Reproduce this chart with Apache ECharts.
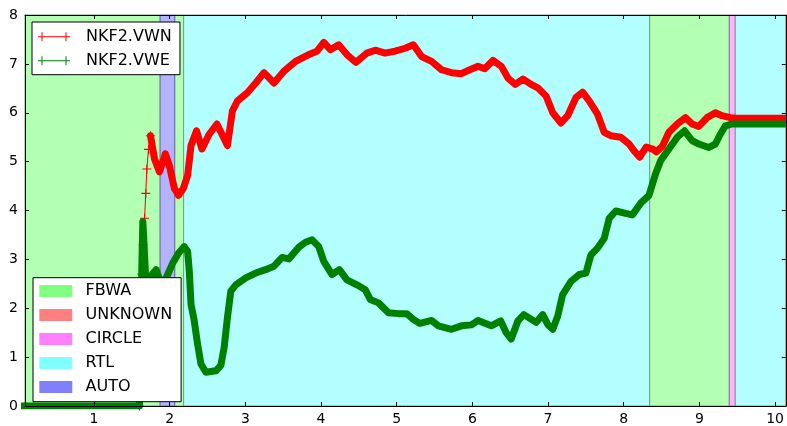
<!DOCTYPE html>
<html><head><meta charset="utf-8">
<script src="https://cdn.jsdelivr.net/npm/echarts@6/dist/echarts.min.js"></script>
<style>html,body{margin:0;padding:0;background:#fff}#c{width:787px;height:426px}</style>
</head><body><div id="c"></div>
<script>
// ---- tick labels ----
const xTicks = [1, 2, 3, 4, 5, 6, 7, 8, 9, 10];
const yTicks = [0, 1, 2, 3, 4, 5, 6, 7, 8];

// ---- series names ----
const lineNames = ['NKF2.VWN', 'NKF2.VWE'];
const modeNames = ['FBWA', 'UNKNOWN', 'CIRCLE', 'RTL', 'AUTO'];

// ---- flight-mode spans [start, end] on the x axis ----
const fbwaSpans = [[0.0, 1.874], [2.066, 2.184], [8.342, 9.395]];
const unknownSpans = [];
const circleSpans = [[9.395, 9.474]];
const rtlSpans = [[2.184, 8.342], [9.474, 10.3]];
const autoSpans = [[1.874, 2.066]];

// ---- NKF2.VWN (red): initial steep rise, then the main trace ----
const vwnRise = [[0.0, 0], [1.601, 0], [1.617, 1.4], [1.630, 2.7], [1.650, 3.3], [1.668, 3.84],
  [1.684, 4.35], [1.698, 4.85], [1.720, 5.25], [1.746, 5.53]];
const vwnMain = [[1.746, 5.53], [1.799, 5.06], [1.864, 4.79], [1.943, 5.16], [1.996, 4.92], [2.062, 4.45],
  [2.118, 4.31], [2.180, 4.45], [2.237, 4.72], [2.282, 5.33], [2.355, 5.63], [2.426, 5.26], [2.522, 5.56],
  [2.624, 5.77], [2.763, 5.33], [2.829, 6.04], [2.895, 6.24], [3.026, 6.41], [3.137, 6.61], [3.246, 6.82],
  [3.378, 6.61], [3.509, 6.85], [3.663, 7.05], [3.838, 7.19], [3.947, 7.26], [4.036, 7.44], [4.124, 7.29],
  [4.233, 7.39], [4.342, 7.19], [4.461, 7.03], [4.605, 7.22], [4.716, 7.28], [4.847, 7.22], [4.979, 7.26],
  [5.111, 7.32], [5.220, 7.39], [5.329, 7.15], [5.461, 7.05], [5.592, 6.88], [5.724, 6.82], [5.855, 6.80],
  [5.966, 6.88], [6.075, 6.95], [6.163, 6.90], [6.272, 7.07], [6.382, 6.95], [6.470, 6.71], [6.566, 6.58],
  [6.667, 6.69], [6.776, 6.58], [6.864, 6.51], [6.974, 6.34], [7.062, 6.00], [7.171, 5.79], [7.259, 5.94],
  [7.368, 6.31], [7.457, 6.42], [7.545, 6.24], [7.654, 5.97], [7.742, 5.60], [7.829, 5.53], [7.961, 5.50],
  [8.071, 5.36], [8.137, 5.22], [8.211, 5.09], [8.298, 5.30], [8.390, 5.25], [8.430, 5.20], [8.509, 5.31],
  [8.597, 5.60], [8.707, 5.77], [8.816, 5.90], [8.904, 5.77], [8.992, 5.72], [9.101, 5.90], [9.211, 6.00],
  [9.299, 5.94], [9.408, 5.90], [9.496, 5.89], [10.2, 5.89]];

// ---- NKF2.VWE (green) ----
const vweMain = [[0.0, 0], [1.601, 0], [1.617, 1.5], [1.634, 3.0], [1.645, 3.77], [1.661, 3.3], [1.680, 2.69],
  [1.733, 2.55], [1.772, 2.70], [1.821, 2.79], [1.864, 2.60], [1.917, 2.50], [1.974, 2.69], [2.039, 2.92],
  [2.118, 3.13], [2.193, 3.26], [2.237, 3.16], [2.259, 2.76], [2.282, 2.08], [2.325, 1.74], [2.368, 1.27],
  [2.413, 0.86], [2.479, 0.69], [2.611, 0.72], [2.676, 0.83], [2.720, 1.20], [2.763, 1.81], [2.808, 2.35],
  [2.874, 2.48], [3.005, 2.62], [3.137, 2.72], [3.268, 2.79], [3.378, 2.86], [3.487, 3.04], [3.575, 3.01],
  [3.707, 3.25], [3.795, 3.35], [3.882, 3.40], [3.970, 3.26], [4.036, 2.96], [4.145, 2.69], [4.242, 2.79],
  [4.342, 2.58], [4.474, 2.48], [4.584, 2.38], [4.650, 2.18], [4.759, 2.11], [4.891, 1.91], [5.022, 1.89],
  [5.132, 1.89], [5.220, 1.77], [5.308, 1.69], [5.461, 1.75], [5.549, 1.64], [5.724, 1.57], [5.855, 1.64],
  [5.987, 1.66], [6.075, 1.75], [6.250, 1.64], [6.374, 1.74], [6.447, 1.50], [6.513, 1.37], [6.601, 1.74],
  [6.680, 1.87], [6.842, 1.71], [6.930, 1.87], [6.996, 1.67], [7.062, 1.57], [7.128, 1.84], [7.193, 2.28],
  [7.303, 2.55], [7.413, 2.69], [7.500, 2.72], [7.566, 3.09], [7.654, 3.23], [7.742, 3.43], [7.808, 3.84],
  [7.895, 3.99], [8.026, 3.94], [8.114, 3.91], [8.224, 4.15], [8.334, 4.31], [8.421, 4.75], [8.487, 5.02],
  [8.597, 5.26], [8.707, 5.50], [8.803, 5.63], [8.904, 5.43], [8.992, 5.36], [9.124, 5.29], [9.211, 5.36],
  [9.276, 5.56], [9.342, 5.73], [9.430, 5.77], [10.2, 5.77]];

// ---- styling ----
const FONT = 'DejaVu Sans';
const RED = '#ff0000', GREEN = '#008000';
const modeSpanMap = { FBWA: fbwaSpans, UNKNOWN: unknownSpans, CIRCLE: circleSpans, RTL: rtlSpans, AUTO: autoSpans };
const modeLegendColor = { FBWA: '#80ff80', UNKNOWN: '#ff8080', CIRCLE: '#ff80ff', RTL: '#80ffff', AUTO: '#8080ff' };
const modeBandColor = { FBWA: '#b3ffb3', UNKNOWN: '#ffb3b3', CIRCLE: '#ffb3ff', RTL: '#b3ffff', AUTO: '#b3b3ff' };
const modeBorderColor = { FBWA: '#7a9a7a', UNKNOWN: '#a06f6f', CIRCLE: '#a06fa0', RTL: '#7a9a9a', AUTO: '#6f6fa0' };
const plusSymbol = 'path://M0,4.4H10V5.6H0Z M4.4,0H5.6V10H4.4Z';
const legendLineIcon = 'path://M0,4H32V5H0Z M3.5,0H4.5V9H3.5Z M27.5,0H28.5V9H27.5Z';

const X_MIN = 0.088, X_MAX = 10.141;

const modeSeries = modeNames.map(m => ({
  name: m, type: 'line', data: [], z: 1,
  itemStyle: { color: modeLegendColor[m], borderColor: modeLegendColor[m] },
  lineStyle: { color: modeLegendColor[m] },
  markArea: {
    silent: true,
    itemStyle: { color: modeBandColor[m], borderColor: modeBorderColor[m], borderWidth: 1 },
    data: modeSpanMap[m].map(s => [{ xAxis: s[0] }, { xAxis: s[1] }])
  }
}));

const xAxisBase = {
  type: 'value', min: X_MIN, max: X_MAX, z: 10,
  axisLine: { show: true, onZero: false, lineStyle: { color: '#000', width: 1 } },
  axisTick: { show: true, inside: true, length: 4, customValues: xTicks, lineStyle: { color: '#000' } },
  splitLine: { show: false }
};
const yAxisBase = {
  type: 'value', min: 0, max: 8, interval: 1, z: 10,
  axisLine: { show: true, onZero: false, lineStyle: { color: '#000', width: 1 } },
  axisTick: { show: true, inside: true, length: 4, lineStyle: { color: '#000' } },
  splitLine: { show: false }
};

const option = {
  animation: false,
  backgroundColor: '#ffffff',
  grid: { left: 25, top: 15, right: -2, bottom: 17, containLabel: false },
  xAxis: [
    Object.assign({}, xAxisBase, { position: 'bottom',
      axisLabel: { customValues: xTicks, fontFamily: FONT, fontSize: 14, color: '#000', margin: 6 } }),
    Object.assign({}, xAxisBase, { position: 'top', axisLabel: { show: false } })
  ],
  yAxis: [
    Object.assign({}, yAxisBase, { position: 'left',
      axisLabel: { fontFamily: FONT, fontSize: 14, color: '#000', margin: 7,
        formatter: v => yTicks.includes(v) ? String(v) : '' } }),
    Object.assign({}, yAxisBase, { position: 'right', axisLabel: { show: false } })
  ],
  legend: [
    {
      data: lineNames.map(n => ({ name: n, icon: legendLineIcon })),
      orient: 'vertical', left: 32, top: 22, padding: [6.7, 8.3, 6, 6],
      itemWidth: 32, itemHeight: 9, itemGap: 8, selectedMode: false,
      backgroundColor: '#fff', borderColor: '#000', borderWidth: 1, borderRadius: 0, z: 20,
      textStyle: { fontFamily: FONT, fontSize: 16, color: '#000', lineHeight: 16, padding: [0, 0, 0, 11] }
    },
    {
      data: modeNames.map(n => ({ name: n, icon: 'rect' })),
      orient: 'vertical', left: 33, top: 277.7, padding: [5.3, 9, 6.7, 6.3],
      itemWidth: 33, itemHeight: 12, itemGap: 8, selectedMode: false,
      backgroundColor: '#fff', borderColor: '#000', borderWidth: 1, borderRadius: 0, z: 20,
      textStyle: { fontFamily: FONT, fontSize: 16, color: '#000', lineHeight: 16, padding: [0, 0, 0, 8.3] }
    }
  ],
  series: modeSeries.concat([
    {
      name: lineNames[0], type: 'line', data: vwnRise, z: 3,
      symbol: plusSymbol, symbolSize: 9, showSymbol: true, showAllSymbol: true,
      itemStyle: { color: RED, borderWidth: 0 },
      lineStyle: { color: RED, width: 1 }
    },
    {
      name: lineNames[0], type: 'line', data: vwnMain, z: 3, showSymbol: false,
      itemStyle: { color: RED },
      lineStyle: { color: RED, width: 7, cap: 'round', join: 'round' }
    },
    {
      name: lineNames[1], type: 'line', data: vweMain, z: 4, showSymbol: false,
      itemStyle: { color: GREEN },
      lineStyle: { color: GREEN, width: 7, cap: 'round', join: 'round' }
    }
  ])
};

const chart = echarts.init(document.getElementById('c'), null, { renderer: 'canvas' });
chart.setOption(option);
</script>
</body></html>
